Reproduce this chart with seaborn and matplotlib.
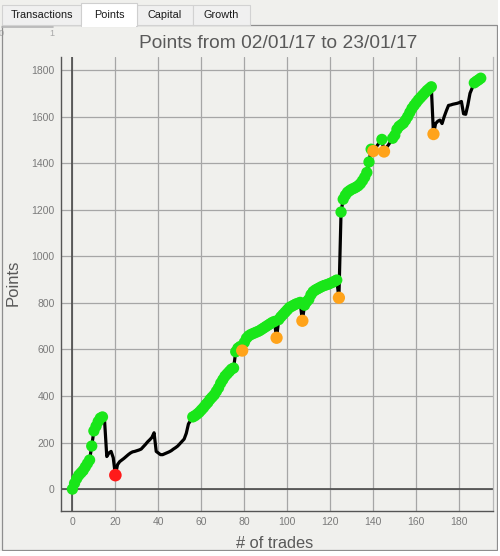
import numpy as np
import pandas as pd
import seaborn as sns
import matplotlib
matplotlib.use("Agg")
import matplotlib.pyplot as plt
from matplotlib.patches import Rectangle
from matplotlib.lines import Line2D

# ---------------- data ----------------
points = [
    0, 25, 45, 60, 70, 80, 95, 110, 125, 185,            # 0-9
    250, 270, 290, 305, 310, 290, 140, 155, 162, 135,    # 10-19
    60, 105, 118, 125, 132, 140, 148, 155, 160, 162,     # 20-29
    165, 168, 172, 182, 192, 203, 212, 222, 242, 162,    # 30-39
    155, 148, 148, 152, 156, 160, 165, 172, 178, 185,    # 40-49
    195, 205, 215, 240, 280, 295, 310, 315, 322, 330,    # 50-59
    340, 350, 362, 372, 385, 395, 405, 420, 435, 455,    # 60-69
    470, 485, 495, 505, 515, 520, 590, 605, 612, 595,    # 70-79
    630, 648, 658, 664, 668, 672, 676, 680, 686, 692,    # 80-89
    698, 704, 710, 716, 720, 650, 728, 740, 750, 760,    # 90-99
    770, 780, 785, 790, 795, 798, 802, 723, 790, 805,    # 100-109
    815, 835, 848, 855, 860, 865, 870, 874, 877, 880,    # 110-119
    884, 888, 893, 898, 822, 1190, 1245, 1262, 1275, 1282,  # 120-129
    1288, 1292, 1297, 1303, 1312, 1325, 1340, 1360, 1405, 1460,  # 130-139
    1452, 1465, 1478, 1490, 1502, 1450, 1465, 1478, 1492, 1507,  # 140-149
    1520, 1545, 1558, 1565, 1572, 1585, 1600, 1618, 1635, 1648,  # 150-159
    1660, 1672, 1682, 1692, 1702, 1712, 1720, 1728, 1525, 1570,  # 160-169
    1580, 1585, 1570, 1600, 1625, 1648, 1650, 1653, 1655, 1657,  # 170-179
    1660, 1665, 1612, 1610, 1650, 1700, 1722, 1745, 1752, 1758,  # 180-189
    1765,                                                   # 190
]
trade_numbers = list(range(len(points)))
orange_trades = [79, 95, 107, 124, 140, 145, 168]
red_trades = [20]
unmarked_trades = list(range(15, 56)) + [141, 142, 143, 146, 147, 148] + list(range(169, 187))

x_ticks = list(range(0, 181, 20))
y_ticks = list(range(0, 1801, 200))
tab_names = ["Transactions", "Points", "Capital", "Growth"]
title_text = "Points from 02/01/17 to 23/01/17"
x_label = "# of trades"
y_label = "Points"

kind = []
for t in trade_numbers:
    if t in red_trades:
        kind.append("red")
    elif t in orange_trades:
        kind.append("orange")
    elif t in unmarked_trades:
        kind.append("none")
    else:
        kind.append("green")
df = pd.DataFrame({"trade": trade_numbers, "points": points, "kind": kind})

# ---------------- style ----------------
BG = "#f0f0ed"
W, H = 500, 556
sns.set_style("white", {"axes.facecolor": BG, "figure.facecolor": BG})
plt.rcParams["font.family"] = ["Liberation Sans", "DejaVu Sans"]

fig = plt.figure(figsize=(W / 100, H / 100), dpi=100, facecolor=BG)


def frect(x0, y0, x1, y1, **kw):
    r = Rectangle((x0 / W, 1 - y1 / H), (x1 - x0) / W, (y1 - y0) / H,
                  transform=fig.transFigure, **kw)
    fig.add_artist(r)
    return r


def ftext(x, y, s, **kw):
    return fig.text(x / W, 1 - y / H, s, **kw)


# axes area
L, R, T, B = 61, 493, 57, 511
ax = fig.add_axes([L / W, 1 - B / H, (R - L) / W, (B - T) / H])
ax.set_facecolor(BG)

ax.set_xlim(-5.3, 195.7)
ax.set_ylim(-94, 1856)
ax.set_xticks(x_ticks)
ax.set_yticks(y_ticks)
ax.grid(True, color="#a6a6a6", lw=0.9)
ax.set_axisbelow(True)
ax.axvline(0, color="#4a4a4a", lw=1.2, zorder=1.5)
ax.axhline(0, color="#4a4a4a", lw=1.2, zorder=1.5)

sns.lineplot(data=df, x="trade", y="points", color="black", lw=2.3,
             ax=ax, zorder=3, estimator=None, sort=False)
sns.scatterplot(data=df[df["kind"] == "green"], x="trade", y="points",
                color="#19e619", s=66, edgecolor="none", linewidth=0,
                ax=ax, zorder=4, legend=False)
sns.scatterplot(data=df[df["kind"] == "orange"], x="trade", y="points",
                color="#ffa31a", s=78, edgecolor="none", linewidth=0,
                ax=ax, zorder=5, legend=False)
sns.scatterplot(data=df[df["kind"] == "red"], x="trade", y="points",
                color="#ff1a1a", s=82, edgecolor="none", linewidth=0,
                ax=ax, zorder=6, legend=False)

ax.set_xlabel("")
ax.set_ylabel("")
ax.tick_params(axis="both", length=0, labelsize=7.5, labelcolor="#7a7a7a")
ax.tick_params(axis="y", pad=4.5)
ax.tick_params(axis="x", pad=4)
ax.spines["top"].set_visible(False)
ax.spines["right"].set_color("#b8b8b8")
ax.spines["right"].set_linewidth(0.9)
for side in ["left", "bottom"]:
    ax.spines[side].set_color("#555555")
    ax.spines[side].set_linewidth(1.0)

# labels and title
ftext(278, 44, title_text, ha="center", va="center", fontsize=13.8, color="#595959")
ftext(275, 543, x_label, ha="center", va="center", fontsize=11.8, color="#595959")
ftext(13, 283, y_label, ha="center", va="center", rotation=90, fontsize=12, color="#595959")

# window chrome: panel + tabs
frect(1.5, 25, 496.5, 549.5, facecolor="none", edgecolor="#8e8e8e", lw=0.9, zorder=5)
frect(497.5, 0, 500, 556, facecolor="#ffffff", edgecolor="none", zorder=5)
frect(0, 550.5, 500, 556, facecolor="#ffffff", edgecolor="none", zorder=5)
tab_edges = [(2, 81), (81, 137), (137, 193), (193, 250)]
for name, (x0, x1) in zip(tab_names, tab_edges):
    if name == "Points":
        frect(x0, 3, x1, 26, facecolor="#ffffff", edgecolor="#cfcfcf", lw=0.8, zorder=7)
        frect(x0 + 0.6, 24.5, x1 - 0.6, 26.5, facecolor="#ffffff", edgecolor="none", zorder=8)
        ftext((x0 + x1) / 2, 15, name, ha="center", va="center", fontsize=7.8, color="#1a1a1a", zorder=9)
    else:
        frect(x0, 5, x1, 25, facecolor="#f0f0f0", edgecolor="#d2d2d2", lw=0.8, zorder=6)
        ftext((x0 + x1) / 2, 15.5, name, ha="center", va="center", fontsize=7.8, color="#1a1a1a", zorder=9)

# remnant mini-axis at top-left
fig.add_artist(Line2D([2 / W, 53 / W], [1 - 26.5 / H, 1 - 26.5 / H], transform=fig.transFigure,
                      color="#b5b5b5", lw=1.2, zorder=6))
ftext(1, 33, "0", ha="center", va="center", fontsize=6.5, color="#a8a8a8")
ftext(52, 33, "1", ha="center", va="center", fontsize=6.5, color="#a8a8a8")

fig.savefig("out.png", dpi=100, facecolor=BG)
